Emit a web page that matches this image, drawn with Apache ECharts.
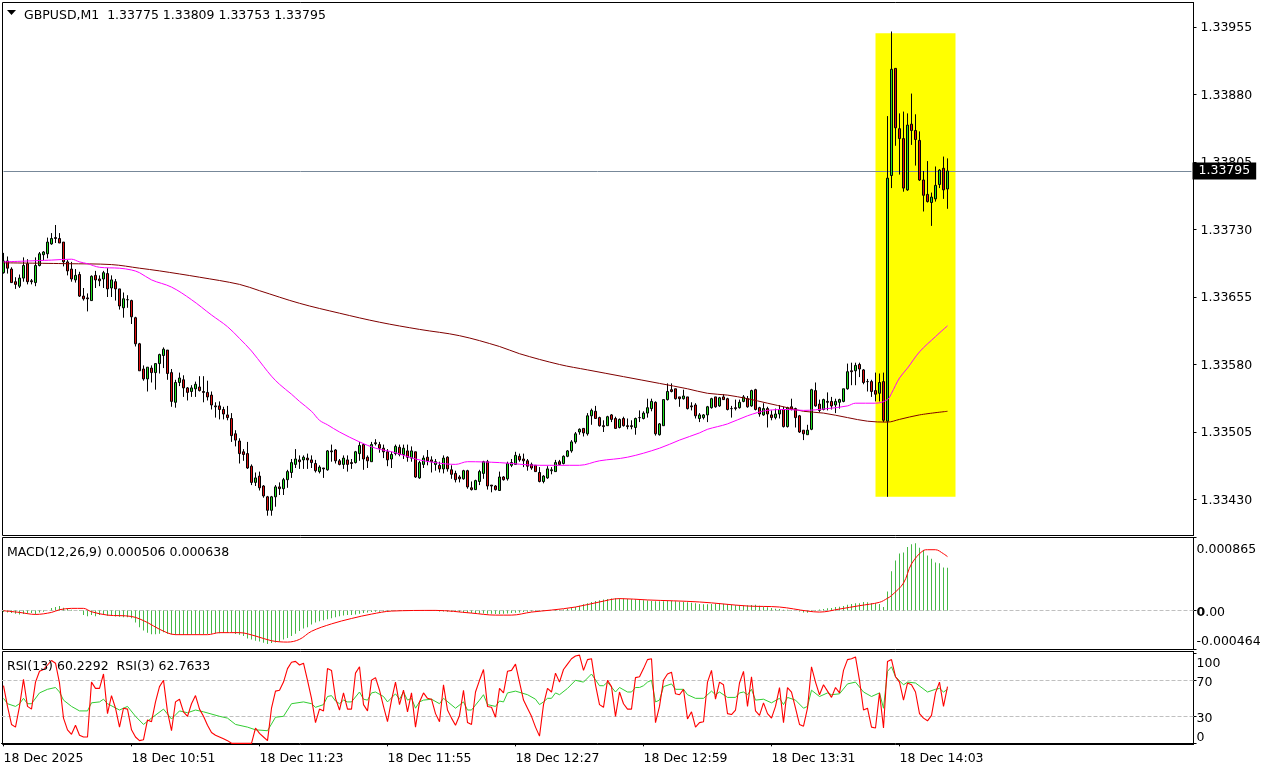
<!DOCTYPE html>
<html><head><meta charset="utf-8">
<style>html,body{margin:0;padding:0;background:#fff}#c{width:1265px;height:771px}</style>
<script src="https://cdn.jsdelivr.net/npm/echarts@6/dist/echarts.min.js"></script>
</head><body><div id="c"></div>
<script>
// prices are stored as points above 1.33000 (1 point = 0.00001)
const basePrice = 1.33;
const opens = [682,695,686,672,667,676,692,673,671,690,702,703,714,721,720,716,694,686,674,680,656,654,651,679,675,675,681,665,672,664,643,652,651,632,603,575,564,576,571,581,590,596,571,538,560,563,554,550,553,555,550,549,546,534,534,530,524,520,503,495,483,481,467,449,456,445,433,418,433,444,442,452,460,469,474,474,476,474,470,461,465,463,484,485,473,469,474,471,471,481,491,477,472,493,491,487,483,475,481,488,480,484,476,483,454,469,477,474,469,468,464,477,463,459,455,453,462,443,441,450,459,472,446,445,440,455,453,468,469,478,475,473,469,468,460,450,454,462,461,472,470,478,484,494,505,509,503,523,528,521,512,512,524,520,510,520,512,512,510,521,520,526,531,538,502,512,541,552,553,544,542,544,534,535,520,521,524,532,544,534,544,542,531,532,532,539,542,534,552,532,524,531,524,521,525,530,511,533,531,523,507,502,508,551,536,530,539,539,535,538,539,553,573,573,580,574,561,561,551,548,561,517,790,909,842,831,774,847,840,829,785,769,760,764,780,798,775];
const highs = [704,700,688,677,680,699,697,675,699,705,706,721,726,735,726,716,696,694,686,683,665,659,679,684,679,684,687,679,675,664,660,657,652,633,604,579,577,579,581,592,599,596,575,563,571,568,555,557,561,567,567,562,550,538,539,533,534,526,507,498,486,494,469,460,461,446,434,434,446,449,454,463,475,486,479,479,481,479,474,468,465,485,491,486,475,479,479,475,484,494,492,479,494,497,494,491,486,483,491,491,491,491,489,483,473,479,485,478,475,472,479,478,468,462,457,463,463,450,452,463,473,474,446,446,461,456,472,475,483,481,481,475,471,468,466,457,467,466,474,474,479,485,496,505,509,509,526,531,534,522,518,523,525,522,520,522,520,518,521,529,528,542,542,539,515,541,559,559,553,544,552,544,538,537,526,525,534,543,544,544,547,543,534,541,541,546,545,552,553,533,537,533,529,531,535,533,533,542,532,524,507,513,553,560,541,542,549,544,542,542,553,581,582,582,582,575,564,563,571,570,571,856,950,909,859,861,859,881,858,839,795,806,771,800,797,811,809];
const lows = [681,681,671,664,665,672,669,669,667,689,696,698,713,715,715,689,679,672,671,655,651,639,651,665,667,665,655,655,651,641,632,643,625,600,573,562,550,560,552,570,576,563,533,532,556,544,540,544,544,550,538,540,530,521,519,519,518,494,489,470,473,464,446,445,440,432,412,412,422,435,435,443,454,465,464,464,464,465,460,459,454,462,472,470,468,464,461,464,470,473,463,465,472,490,482,476,467,465,479,478,475,472,472,454,453,465,468,460,462,460,459,461,453,449,449,452,442,440,441,446,453,441,438,440,440,451,451,466,469,472,466,462,463,461,449,448,453,458,461,468,469,477,482,492,502,500,501,513,520,511,505,512,516,509,509,511,508,508,502,516,519,521,528,501,501,512,540,549,541,533,541,530,529,520,516,519,516,531,532,533,541,529,521,529,531,538,532,533,529,522,523,510,518,519,520,510,510,529,510,504,496,502,507,533,527,529,529,530,526,531,538,552,557,557,566,558,550,544,539,539,516,433,776,823,791,772,773,824,801,784,750,760,734,761,776,764,753];
const closes = [695,687,671,669,676,690,672,672,690,703,705,716,720,720,715,694,684,675,679,656,653,653,678,674,673,682,664,674,664,645,653,652,633,603,573,564,577,571,581,591,597,570,539,560,565,554,549,554,558,551,549,544,535,533,530,525,521,501,496,481,480,465,449,454,443,434,418,433,444,442,452,461,471,475,472,477,474,471,462,466,464,484,483,473,469,476,469,470,483,490,475,473,491,492,487,483,474,480,489,480,487,477,484,455,471,476,473,472,472,464,476,464,458,452,453,462,444,441,451,461,472,445,445,441,455,452,470,471,479,474,473,467,465,461,450,456,464,463,471,469,478,484,494,503,508,504,523,529,520,512,511,522,519,509,519,512,511,511,520,521,526,532,539,503,514,541,550,550,542,542,545,531,533,523,524,524,533,542,533,543,541,530,531,531,538,544,533,551,530,525,531,525,521,525,530,511,532,530,521,505,503,507,552,534,529,541,538,534,539,541,553,572,572,579,575,560,561,550,547,560,518,787,908,843,831,776,846,840,830,785,768,761,766,779,796,774,795];
// moving averages read at sampled bars: [bar, points]
const maFast = [[0,694],[12,696],[17,697],[19,694],[21,692],[24,688],[29,687],[32,685],[34,682],[37,674],[42,666],[47,652],[52,635],[56,622],[59,609],[62,595],[65,578],[67,567],[69,558],[72,547],[74,539],[77,528],[79,518],[81,513],[84,505],[89,494],[93,487],[98,482],[103,475],[108,471],[113,469],[116,472],[124,471],[134,468],[144,468],[149,473],[156,477],[164,487],[169,496],[174,504],[176,508],[181,514],[186,523],[191,529],[196,530],[200,529],[206,531],[211,534],[213,537],[218,537],[221,541],[222,548],[224,565],[226,576],[229,594],[233,611],[236,623]];
const maSlow = [[0,693],[16,692],[27,691],[34,687],[39,684],[49,677],[59,669],[64,662],[74,648],[84,637],[94,627],[104,619],[114,612],[124,600],[129,592],[139,580],[146,574],[164,559],[171,553],[176,548],[181,546],[186,542],[191,537],[196,532],[200,528],[205,526],[211,521],[216,517],[221,516],[224,519],[229,524],[236,528]];
// MACD in millionths
const macdHist = [-20,-24,-32,-40,-48,-44,-40,-32,-48,-24,-16,0,28,40,52,32,16,8,0,-8,-56,-68,-56,-68,-56,-48,-64,-64,-72,-76,-80,-80,-92,-144,-200,-240,-264,-284,-284,-276,-260,-276,-284,-288,-288,-288,-288,-288,-284,-280,-280,-280,-276,-272,-272,-268,-264,-260,-280,-288,-304,-332,-344,-360,-368,-384,-400,-388,-380,-372,-344,-328,-304,-276,-244,-216,-200,-168,-144,-128,-116,-104,-92,-80,-68,-60,-56,-56,-48,-40,-32,-24,-20,-16,-16,-12,-12,-8,-4,
4,4,4,4,0,0,0,-4,-4,-8,-12,-12,-16,-16,-20,-20,-24,-28,-32,-32,-36,-36,-40,-40,-44,-44,-40,-36,-32,-28,-24,-20,-16,-12,-12,-8,-8,-4,0,4,8,12,20,28,40,56,72,84,100,112,120,128,136,140,144,144,140,136,132,128,124,120,116,112,108,108,108,112,112,108,104,100,96,92,84,76,72,72,76,80,84,80,72,64,60,56,56,60,64,68,56,44,36,28,20,16,8,8,4,0,-12,-24,-28,-12,4,12,16,24,28,40,44,52,68,76,84,84,
100,96,84,84,76,40,224,464,592,676,688,752,784,796,744,716,652,612,568,560,508,506];
const macdSignal = [[0,-4],[4,-24],[8,-48],[12,-24],[14,8],[17,24],[20,24],[22,-16],[26,-56],[32,-72],[36,-144],[39,-224],[43,-288],[51,-288],[54,-264],[59,-264],[63,-304],[67,-360],[71,-376],[74,-344],[77,-248],[82,-160],[87,-96],[92,-44],[97,-8],[108,0],[117,-32],[123,-56],[127,-56],[132,-20],[137,4],[143,40],[149,100],[154,140],[161,124],[174,100],[186,52],[194,40],[201,-8],[204,-20],[209,16],[214,56],[219,96],[221,144],[222,176],[225,324],[227,552],[230,712],[231,720],[233,720],[235,672],[236,638]];
const rsi3 = [64,41,21,18,41,71,41,38,68,80,82,87,92,89,67,28,15,10,20,9,7,7,68,61,61,77,33,53,39,18,39,38,15,7,3,4,26,24,46,63,70,35,14,46,49,35,30,44,53,38,30,20,12,9,7,5,3,0,0,0,0,0,0,17,11,7,3,39,58,59,68,83,90,91,87,89,70,50,23,38,36,83,81,
50,37,56,38,38,78,85,43,36,70,73,59,41,24,48,68,43,59,35,56,18,46,56,50,49,33,24,65,37,28,20,31,59,23,21,57,70,82,41,40,29,61,56,80,81,88,68,48,39,30,18,8,43,61,57,78,68,82,88,94,97,98,81,93,94,65,43,40,70,63,30,57,44,38,38,73,74,83,93,
94,23,41,70,77,79,55,54,60,27,35,18,23,24,68,81,49,68,65,33,32,37,67,80,41,74,36,31,45,33,28,41,62,23,62,57,39,21,19,39,85,68,54,65,58,51,62,56,81,93,94,96,70,37,39,18,17,56,17,91,93,74,68,48,67,65,57,33,28,25,31,56,68,41,63];
const rsi13 = [[0,50],[1,44],[3,41],[4,44],[5,50],[6,44],[7,44],[9,56],[11,60],[13,62],[14,57],[15,48],[17,41],[19,36],[21,36],[22,45],[24,46],[25,49],[26,44],[29,37],[31,41],[33,30],[35,21],[37,28],[40,38],[42,27],[44,36],[46,34],[48,37],[50,35],[54,30],[56,28],[58,21],[61,18],[63,15],[66,14],[68,29],[70,30],[72,44],[75,46],[77,44],[78,40],[80,43],[81,52],[82,53],[83,47],[84,44],[85,48],[86,46],[87,46],[89,57],[90,49],[91,48],[92,56],[93,57],[95,52],[96,46],[98,55],[99,49],[100,57],[101,48],[102,50],[103,39],[104,46],[105,48],[107,49],[109,44],[110,50],[113,39],[115,46],[116,37],[117,37],[119,48],[120,54],[121,43],[123,41],[124,47],[125,46],[126,56],[128,58],[131,54],[133,49],[134,43],[135,46],[136,50],[137,50],[138,56],[139,54],[141,61],[143,70],[145,68],[147,77],[149,64],[150,64],[151,68],[153,57],[154,62],[156,57],[157,57],[158,62],[159,62],[160,64],[161,68],[162,70],[163,46],[164,48],[165,63],[167,66],[168,60],[170,60],[171,54],[173,50],[175,50],[177,58],[178,54],[179,57],[181,51],[183,51],[184,56],[185,57],[186,54],[187,60],[188,48],[190,49],[192,45],[194,50],[195,43],[196,51],[198,48],[200,39],[201,41],[202,59],[204,52],[206,56],[207,54],[209,55],[211,66],[213,68],[215,57],[217,52],[219,56],[220,39],[221,80],[222,85],[223,74],[225,65],[226,68],[228,67],[231,57],[233,60],[234,61],[235,57],[236,60]];
const timeLabels = ['18 Dec 2025','18 Dec 10:51','18 Dec 11:23','18 Dec 11:55','18 Dec 12:27','18 Dec 12:59','18 Dec 13:31','18 Dec 14:03'];
const priceTicks = [1.33955,1.33880,1.33805,1.33730,1.33655,1.33580,1.33505,1.33430];
const macdTicks = [0.000865,0,-0.000464];
const rsiTicks = [100,70,30,0];
const rsiLevels = [70,30];
const lastPrice = 1.33795;
const headerMain = 'GBPUSD,M1  1.33775 1.33809 1.33753 1.33795';
const headerMacd = 'MACD(12,26,9) 0.000506 0.000638';
const headerRsi = 'RSI(13) 60.2292  RSI(3) 62.7633';

const FONT = 'DejaVu Sans', FS = 12.5;
const price = p => +(basePrice + p / 100000).toFixed(5);
const slots = 298, tickStep = 32;
const categories = Array.from({length: slots}, (_, i) => i % tickStep === 0 && i / tickStep < timeLabels.length ? timeLabels[i / tickStep] : '');
const isTick = i => i % tickStep === 0 && i / tickStep < timeLabels.length;
const left = 1.5, width = 1192;
const mkX = (gi, visible) => ({
  type: 'category', gridIndex: gi, data: categories, boundaryGap: true,
  axisLine: {show: visible, lineStyle: {color: '#000', width: 1}},
  axisTick: {show: visible, alignWithLabel: true, length: 3, interval: i => isTick(i), lineStyle: {color: '#000'}},
  axisLabel: {show: visible, interval: i => isTick(i), align: 'left', margin: 8, color: '#000', fontFamily: FONT, fontSize: FS, hideOverlap: false},
  splitLine: {show: false}
});
const tokenStyle = padding => ({fontFamily: FONT, fontSize: FS, color: '#000', padding});
const richLabel = {
  top: tokenStyle([24, 0, 0, 0]), bottom: tokenStyle([0, 0, 16, 0]),
  rsiTop: tokenStyle([20, 0, 0, 0]), rsiBottom: tokenStyle([0, 0, 12, 0]),
  rsiMid: tokenStyle([4, 0, 0, 0]), price: tokenStyle([2, 0, 0, 0]),
  zero: tokenStyle([4, 0, 0, 0]),
  bold: Object.assign(tokenStyle([4, 0, 0, 0]), {fontWeight: 'bold'})
};
const axisBase = {
  position: 'right', axisLine: {show: true, onZero: false, lineStyle: {color: '#000'}},
  splitLine: {show: false}
};
const titleStyle = {fontFamily: FONT, fontSize: FS, fontWeight: 'normal', color: '#000'};
const frameStyle = {fill: 'none', stroke: '#000', lineWidth: 1};
const option = {
  animation: false, backgroundColor: '#fff',
  textStyle: {fontFamily: FONT},
  title: [
    {text: headerMain, left: 24, top: 9, padding: 0, textStyle: titleStyle},
    {text: headerMacd, left: 7, top: 546, padding: 0, textStyle: titleStyle},
    {text: headerRsi, left: 7, top: 660, padding: 0, textStyle: titleStyle}
  ],
  graphic: [
    {type: 'polygon', z: 10, shape: {points: [[7, 10], [16, 10], [11.5, 15]]}, style: {fill: '#000'}},
    {type: 'rect', z: 0, silent: true, shape: {x: 2.5, y: 2.5, width: 1191, height: 533}, style: frameStyle},
    {type: 'rect', z: 0, silent: true, shape: {x: 2.5, y: 537.5, width: 1191, height: 112}, style: frameStyle},
    {type: 'rect', z: 0, silent: true, shape: {x: 2.5, y: 651.5, width: 1191, height: 93}, style: frameStyle}
  ],
  grid: [
    {left, width, top: 2.5, height: 533},
    {left, width, top: 537.5, height: 112},
    {left, width, top: 651.5, height: 93}
  ],
  xAxis: [mkX(0, false), mkX(1, false), mkX(2, true)],
  yAxis: [
    Object.assign({}, axisBase, {
      type: 'value', gridIndex: 0, min: 1.33390, max: 1.339822,
      axisTick: {show: true, length: 3, customValues: priceTicks, lineStyle: {color: '#000'}},
      axisLabel: {customValues: priceTicks, margin: 7, rich: richLabel, formatter: v => '{price|' + v.toFixed(5) + '}'}
    }),
    Object.assign({}, axisBase, {
      type: 'value', gridIndex: 1, min: -0.000464, max: 0.000865,
      axisTick: {show: true, length: 3, customValues: macdTicks, lineStyle: {color: '#000'}},
      axisLabel: {customValues: macdTicks, margin: 3, rich: richLabel,
        formatter: v => v > 0 ? '{top|' + v.toFixed(6) + '}' : v < 0 ? '{bottom|' + v.toFixed(6) + '}' : '{bold|0}{zero|.00}'}
    }),
    Object.assign({}, axisBase, {
      type: 'value', gridIndex: 2, min: -1.3, max: 102,
      axisTick: {show: true, length: 3, customValues: rsiTicks, lineStyle: {color: '#000'}},
      axisLabel: {customValues: rsiTicks, margin: 3, rich: richLabel,
        formatter: v => v === 100 ? '{rsiTop|100}' : v === 0 ? '{rsiBottom|0}' : '{rsiMid|' + v + '}'}
    })
  ],
  series: [
    {
      type: 'candlestick', xAxisIndex: 0, yAxisIndex: 0, z: 3, barWidth: 3, clip: true,
      data: opens.map((o, i) => [price(o), price(closes[i]), price(lows[i]), price(highs[i])]),
      itemStyle: {color: '#1fe01f', color0: '#e01010', borderColor: '#000', borderColor0: '#000', borderColorDoji: '#000', borderWidth: 1},
      markArea: {silent: true, z: 1, itemStyle: {color: '#ffff00', opacity: 1},
        data: [[{xAxis: 218, yAxis: price(948.3)}, {xAxis: 238, yAxis: price(432.8)}]]}
    },
    {type: 'line', xAxisIndex: 0, yAxisIndex: 0, z: 4, symbol: 'none', smooth: 0.35, lineStyle: {color: '#800000', width: 1}, data: maSlow.map(d => [d[0], price(d[1])])},
    {type: 'line', xAxisIndex: 0, yAxisIndex: 0, z: 4, symbol: 'none', smooth: 0.35, lineStyle: {color: '#ff00ff', width: 1}, data: maFast.map(d => [d[0], price(d[1])]),
      markLine: {silent: true, symbol: 'none', z: 2,
        lineStyle: {color: '#778899', type: 'solid', width: 1},
        label: {show: true, position: 'end', distance: 1, formatter: () => lastPrice.toFixed(5), backgroundColor: '#000', color: '#fff', fontFamily: FONT, fontSize: FS, padding: [2, 6, 2, 6]},
        data: [[{xAxis: 0, yAxis: lastPrice}, {xAxis: 297, yAxis: lastPrice}]]}},
    {type: 'bar', xAxisIndex: 1, yAxisIndex: 1, barWidth: 1, itemStyle: {color: '#46b946'}, data: macdHist.map(v => v / 1e6)},
    {type: 'line', xAxisIndex: 1, yAxisIndex: 1, z: 4, symbol: 'none', smooth: 0.35, lineStyle: {color: '#ff0000', width: 1}, data: macdSignal.map(d => [d[0], d[1] / 1e6]),
      markLine: {silent: true, z: 1, symbol: 'none', label: {show: false}, lineStyle: {color: '#c0c0c0', type: [4, 2], width: 1}, data: [{yAxis: 0}]}},
    {type: 'line', xAxisIndex: 2, yAxisIndex: 2, z: 3, symbol: 'none', lineStyle: {color: '#32cd32', width: 1}, data: rsi13,
      markLine: {silent: true, z: 1, symbol: 'none', label: {show: false}, lineStyle: {color: '#c0c0c0', type: [4, 2], width: 1}, data: rsiLevels.map(v => ({yAxis: v}))}},
    {type: 'line', xAxisIndex: 2, yAxisIndex: 2, z: 4, symbol: 'none', lineStyle: {color: '#ff0000', width: 1.1}, data: rsi3}
  ]
};
const chart = echarts.init(document.getElementById('c'), null, {renderer: 'canvas'});
chart.setOption(option);
</script></body></html>
